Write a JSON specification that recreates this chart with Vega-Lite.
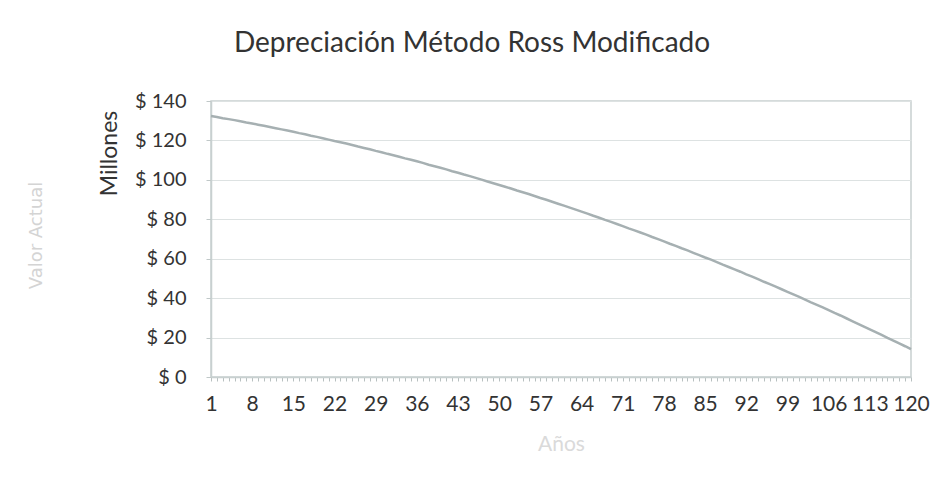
{
  "$schema": "https://vega.github.io/schema/vega-lite/v6.json",
  "width": 700,
  "height": 276,
  "autosize": {"type": "none"},
  "padding": {"left": 211, "top": 101, "right": 32, "bottom": 114},
  "background": "white",
  "title": {
    "text": "Depreciación Método Ross Modificado",
    "anchor": "middle",
    "frame": "group",
    "dx": -89,
    "offset": 33,
    "font": "Lato",
    "fontSize": 28,
    "fontWeight": "normal",
    "color": "#333333"
  },
  "config": {
    "view": {"stroke": "#c8d0d0", "strokeWidth": 1.5},
    "font": "Lato"
  },
  "data": {
    "values": [
      {"anio": 1, "valor": 132.4}, {"anio": 2, "valor": 131.9}, {"anio": 3, "valor": 131.3}, {"anio": 4, "valor": 130.8},
      {"anio": 5, "valor": 130.3}, {"anio": 6, "valor": 129.7}, {"anio": 7, "valor": 129.1}, {"anio": 8, "valor": 128.6},
      {"anio": 9, "valor": 128.0}, {"anio": 10, "valor": 127.4}, {"anio": 11, "valor": 126.8}, {"anio": 12, "valor": 126.2},
      {"anio": 13, "valor": 125.6}, {"anio": 14, "valor": 125.0}, {"anio": 15, "valor": 124.4}, {"anio": 16, "valor": 123.7},
      {"anio": 17, "valor": 123.1}, {"anio": 18, "valor": 122.4}, {"anio": 19, "valor": 121.8}, {"anio": 20, "valor": 121.1},
      {"anio": 21, "valor": 120.4}, {"anio": 22, "valor": 119.7}, {"anio": 23, "valor": 119.1}, {"anio": 24, "valor": 118.4},
      {"anio": 25, "valor": 117.7}, {"anio": 26, "valor": 116.9}, {"anio": 27, "valor": 116.2}, {"anio": 28, "valor": 115.5},
      {"anio": 29, "valor": 114.7}, {"anio": 30, "valor": 114.0}, {"anio": 31, "valor": 113.2}, {"anio": 32, "valor": 112.5},
      {"anio": 33, "valor": 111.7}, {"anio": 34, "valor": 110.9}, {"anio": 35, "valor": 110.2}, {"anio": 36, "valor": 109.4},
      {"anio": 37, "valor": 108.6}, {"anio": 38, "valor": 107.7}, {"anio": 39, "valor": 106.9}, {"anio": 40, "valor": 106.1},
      {"anio": 41, "valor": 105.3}, {"anio": 42, "valor": 104.4}, {"anio": 43, "valor": 103.6}, {"anio": 44, "valor": 102.7},
      {"anio": 45, "valor": 101.9}, {"anio": 46, "valor": 101.0}, {"anio": 47, "valor": 100.1}, {"anio": 48, "valor": 99.2},
      {"anio": 49, "valor": 98.3}, {"anio": 50, "valor": 97.4}, {"anio": 51, "valor": 96.5}, {"anio": 52, "valor": 95.6},
      {"anio": 53, "valor": 94.6}, {"anio": 54, "valor": 93.7}, {"anio": 55, "valor": 92.8}, {"anio": 56, "valor": 91.8},
      {"anio": 57, "valor": 90.8}, {"anio": 58, "valor": 89.9}, {"anio": 59, "valor": 88.9}, {"anio": 60, "valor": 87.9},
      {"anio": 61, "valor": 86.9}, {"anio": 62, "valor": 85.9}, {"anio": 63, "valor": 84.9}, {"anio": 64, "valor": 83.9},
      {"anio": 65, "valor": 82.9}, {"anio": 66, "valor": 81.8}, {"anio": 67, "valor": 80.8}, {"anio": 68, "valor": 79.7},
      {"anio": 69, "valor": 78.7}, {"anio": 70, "valor": 77.6}, {"anio": 71, "valor": 76.5}, {"anio": 72, "valor": 75.4},
      {"anio": 73, "valor": 74.4}, {"anio": 74, "valor": 73.3}, {"anio": 75, "valor": 72.2}, {"anio": 76, "valor": 71.0},
      {"anio": 77, "valor": 69.9}, {"anio": 78, "valor": 68.8}, {"anio": 79, "valor": 67.6}, {"anio": 80, "valor": 66.5},
      {"anio": 81, "valor": 65.3}, {"anio": 82, "valor": 64.2}, {"anio": 83, "valor": 63.0}, {"anio": 84, "valor": 61.8},
      {"anio": 85, "valor": 60.6}, {"anio": 86, "valor": 59.5}, {"anio": 87, "valor": 58.3}, {"anio": 88, "valor": 57.0},
      {"anio": 89, "valor": 55.8}, {"anio": 90, "valor": 54.6}, {"anio": 91, "valor": 53.4}, {"anio": 92, "valor": 52.1},
      {"anio": 93, "valor": 50.9}, {"anio": 94, "valor": 49.6}, {"anio": 95, "valor": 48.3}, {"anio": 96, "valor": 47.1},
      {"anio": 97, "valor": 45.8}, {"anio": 98, "valor": 44.5}, {"anio": 99, "valor": 43.2}, {"anio": 100, "valor": 41.9},
      {"anio": 101, "valor": 40.6}, {"anio": 102, "valor": 39.3}, {"anio": 103, "valor": 37.9}, {"anio": 104, "valor": 36.6},
      {"anio": 105, "valor": 35.3}, {"anio": 106, "valor": 33.9}, {"anio": 107, "valor": 32.5}, {"anio": 108, "valor": 31.2},
      {"anio": 109, "valor": 29.8}, {"anio": 110, "valor": 28.4}, {"anio": 111, "valor": 27.0}, {"anio": 112, "valor": 25.6},
      {"anio": 113, "valor": 24.2}, {"anio": 114, "valor": 22.8}, {"anio": 115, "valor": 21.4}, {"anio": 116, "valor": 19.9},
      {"anio": 117, "valor": 18.5}, {"anio": 118, "valor": 17.0}, {"anio": 119, "valor": 15.6}, {"anio": 120, "valor": 14.1}
    ]
  },
  "layer": [
    {
      "mark": {"type": "line", "color": "#a6b0b2", "strokeWidth": 2.5},
      "encoding": {
        "x": {
          "field": "anio",
          "type": "quantitative",
          "scale": {"domain": [1, 120], "nice": false, "zero": false},
          "axis": {
            "title": "Años",
            "titleFont": "Lato",
            "titleFontSize": 21,
            "titleFontWeight": "normal",
            "titleColor": "#dadada",
            "titleY": 56,
            "values": [1,2,3,4,5,6,7,8,9,10,11,12,13,14,15,16,17,18,19,20,21,22,23,24,25,26,27,28,29,30,31,32,33,34,35,36,37,38,39,40,41,42,43,44,45,46,47,48,49,50,51,52,53,54,55,56,57,58,59,60,61,62,63,64,65,66,67,68,69,70,71,72,73,74,75,76,77,78,79,80,81,82,83,84,85,86,87,88,89,90,91,92,93,94,95,96,97,98,99,100,101,102,103,104,105,106,107,108,109,110,111,112,113,114,115,116,117,118,119,120],
            "labelExpr": "(datum.value - 1) % 7 == 0 ? datum.label : ''",
            "labelOverlap": false,
            "labelFlush": false,
            "labelBound": false,
            "labelFont": "Lato",
            "labelFontSize": 21,
            "labelColor": "#333333",
            "labelPadding": 12,
            "tickSize": 4,
            "tickColor": "#b8c0c0",
            "domainColor": "#c8d0d0",
            "domainWidth": 1.5,
            "grid": false
          }
        },
        "y": {
          "field": "valor",
          "type": "quantitative",
          "scale": {"domain": [0, 140], "nice": false},
          "axis": {
            "title": "Millones",
            "titleFont": "Lato",
            "titleFontSize": 23,
            "titleFontWeight": "normal",
            "titleColor": "#333333",
            "titleX": -90,
            "titleY": 52,
            "values": [0, 20, 40, 60, 80, 100, 120, 140],
            "labelExpr": "'$ ' + datum.value",
            "labelFont": "Lato",
            "labelFontSize": 20,
            "labelColor": "#333333",
            "labelPadding": 20,
            "tickSize": 5,
            "tickColor": "#c0c8c8",
            "domainColor": "#c8d0d0",
            "domainWidth": 1.5,
            "grid": true,
            "gridColor": "#dde2e2",
            "gridWidth": 1.2
          }
        }
      }
    },
    {
      "mark": {"type": "rule", "strokeOpacity": 0},
      "encoding": {
        "y": {
          "field": "valor",
          "type": "quantitative",
          "axis": {
            "orient": "left",
            "title": "Valor Actual",
            "titleFont": "DejaVu Sans",
            "titleFontSize": 18,
            "titleFontWeight": "normal",
            "titleColor": "#d4d4d4",
            "titleX": -166,
            "titleY": 134,
            "labels": false,
            "ticks": false,
            "domain": false,
            "grid": false
          }
        }
      }
    }
  ],
  "resolve": {"axis": {"y": "independent"}}
}
